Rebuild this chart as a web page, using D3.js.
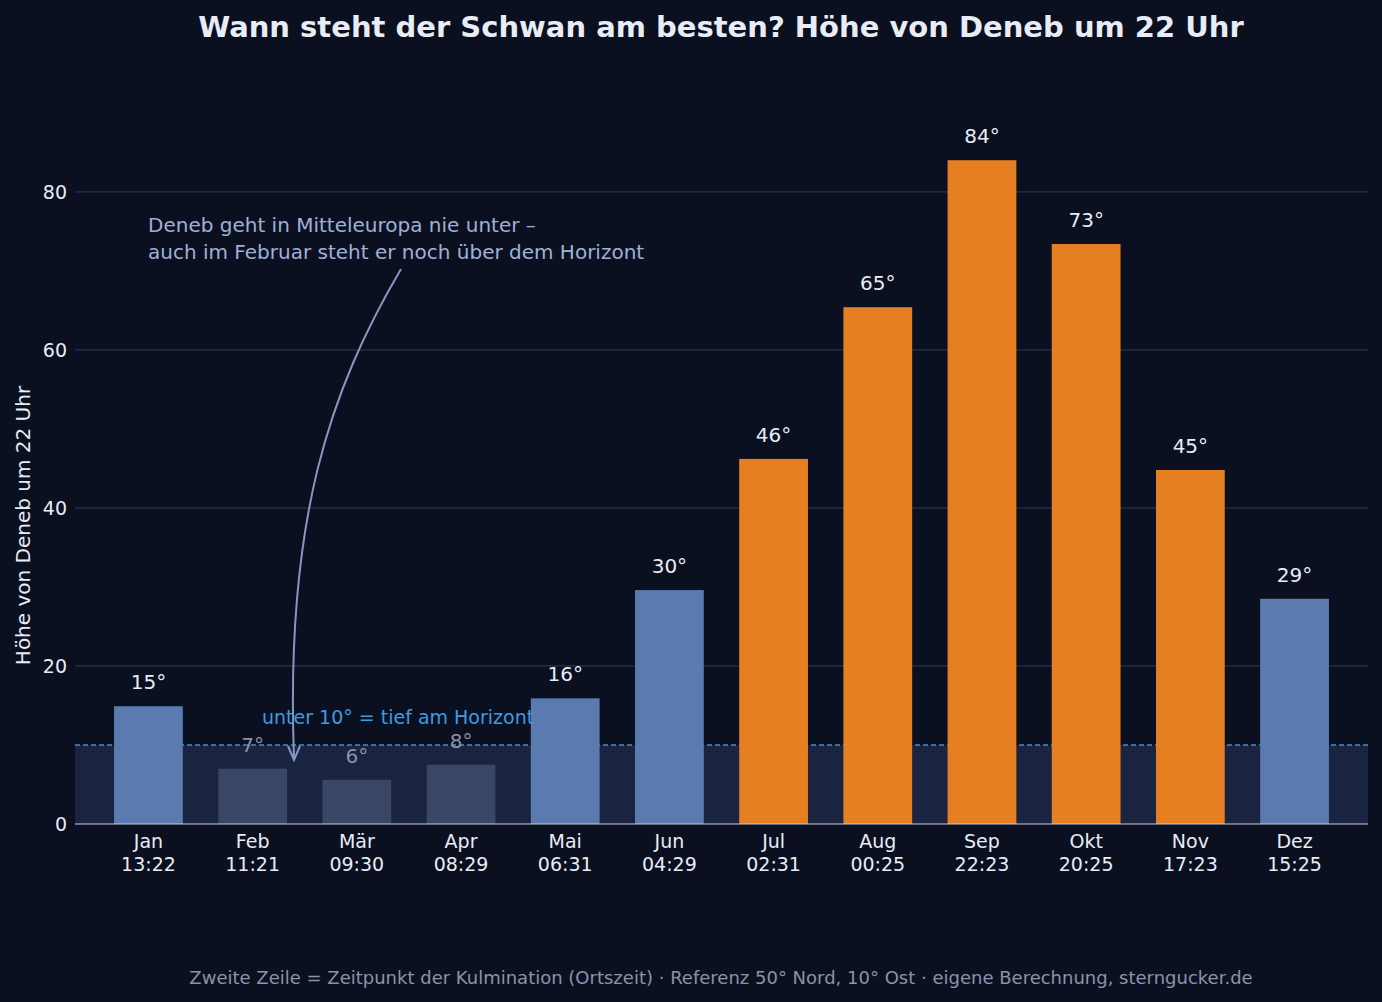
<!DOCTYPE html>
<html><head><meta charset="utf-8">
<script src="https://cdn.jsdelivr.net/npm/d3@7"></script>
<style>
body{margin:0;background:#0b1020;}
text{font-family:"DejaVu Sans",sans-serif;}
</style></head>
<body><div id="chart"></div>
<script>
var months = ["Jan","Feb","Mär","Apr","Mai","Jun","Jul","Aug","Sep","Okt","Nov","Dez"];
var times = ["13:22","11:21","09:30","08:29","06:31","04:29","02:31","00:25","22:23","20:25","17:23","15:25"];
var altitudes = [14.9,7.0,5.6,7.5,15.9,29.6,46.2,65.4,84.0,73.4,44.8,28.5];
var yTicks = [0,20,40,60,80];

var W = 1382, H = 1002;
var m = {left:75, right:1368, top:97, bottom:824};

var svg = d3.select("#chart").append("svg").attr("width",W).attr("height",H);
svg.append("rect").attr("width",W).attr("height",H).attr("fill","#0b1020");

var x = d3.scaleBand().domain(months).range([m.left,m.right]).paddingInner(0.34).paddingOuter(0.375);
var y = d3.scaleLinear().domain([0,92]).range([m.bottom,m.top]);

// low band
svg.append("rect").attr("x",m.left).attr("width",m.right-m.left)
  .attr("y",y(10)).attr("height",y(0)-y(10)).attr("fill","#1a2440");

// grid
svg.selectAll(".grid").data(yTicks.slice(1)).enter().append("line")
  .attr("x1",m.left).attr("x2",m.right).attr("y1",d=>y(d)).attr("y2",d=>y(d))
  .attr("stroke","#2a3150").attr("stroke-width",1.2);

svg.append("line").attr("x1",m.left).attr("x2",m.right).attr("y1",y(10)).attr("y2",y(10))
  .attr("stroke","#3d8fd0").attr("stroke-width",1.5).attr("stroke-dasharray","5,3");

function col(v){ return v>=40 ? "#e67e22" : (v<10 ? "#3b4664" : "#5b7bb0"); }

svg.selectAll(".bar").data(altitudes).enter().append("rect")
  .attr("x",(d,i)=>x(months[i])).attr("width",x.bandwidth())
  .attr("y",d=>y(d)).attr("height",d=>y(0)-y(d)).attr("fill",col);

svg.selectAll(".lbl").data(altitudes).enter().append("text")
  .attr("x",(d,i)=>x(months[i])+x.bandwidth()/2).attr("y",d=>y(d)-17)
  .attr("text-anchor","middle").attr("font-size",20)
  .attr("fill",d=>d<10?"#8a93aa":"#e8ecf5").text(d=>Math.round(d)+"°");

svg.append("line").attr("x1",m.left).attr("x2",m.right).attr("y1",m.bottom).attr("y2",m.bottom)
  .attr("stroke","#c8cedc").attr("stroke-width",1);

// x axis
var xa = svg.append("g");
months.forEach(function(mo,i){
  var cx = x(mo)+x.bandwidth()/2;
  xa.append("text").attr("x",cx).attr("y",848).attr("text-anchor","middle").attr("font-size",19).attr("fill","#e8ecf5").text(mo);
  xa.append("text").attr("x",cx).attr("y",871).attr("text-anchor","middle").attr("font-size",19).attr("fill","#e8ecf5").text(times[i]);
});

// y axis
svg.selectAll(".yt").data(yTicks).enter().append("text")
  .attr("x",m.left-8).attr("y",d=>y(d)+7).attr("text-anchor","end")
  .attr("font-size",19).attr("fill","#e8ecf5").text(d=>d);
svg.append("text").attr("transform","translate(30,"+((m.top+m.bottom)/2+65)+") rotate(-90)")
  .attr("text-anchor","middle").attr("font-size",20).attr("fill","#e8ecf5").text("Höhe von Deneb um 22 Uhr");

// title
svg.append("text").attr("x",721).attr("y",37).attr("text-anchor","middle")
  .attr("font-size",29).attr("font-weight","bold").attr("fill","#e8ecf5")
  .text("Wann steht der Schwan am besten? Höhe von Deneb um 22 Uhr");

// annotations
svg.append("text").attr("x",262).attr("y",724).attr("font-size",19).attr("fill","#3d9be0").text("unter 10° = tief am Horizont");
var ann = svg.append("text").attr("font-size",20).attr("fill","#9fb0d6");
ann.append("tspan").attr("x",148).attr("y",232).text("Deneb geht in Mitteleuropa nie unter –");
ann.append("tspan").attr("x",148).attr("y",259).text("auch im Februar steht er noch über dem Horizont");

svg.append("path").attr("d","M401,269 C330,390 285,520 294,758")
  .attr("fill","none").attr("stroke","#8597c0").attr("stroke-width",2);
svg.append("path").attr("d","M288,746 L294,760 L300,746")
  .attr("fill","none").attr("stroke","#8597c0").attr("stroke-width",2);

svg.append("text").attr("x",721).attr("y",984).attr("text-anchor","middle")
  .attr("font-size",18).attr("fill","#8a93aa")
  .text("Zweite Zeile = Zeitpunkt der Kulmination (Ortszeit) · Referenz 50° Nord, 10° Ost · eigene Berechnung, sterngucker.de");
</script></body></html>
